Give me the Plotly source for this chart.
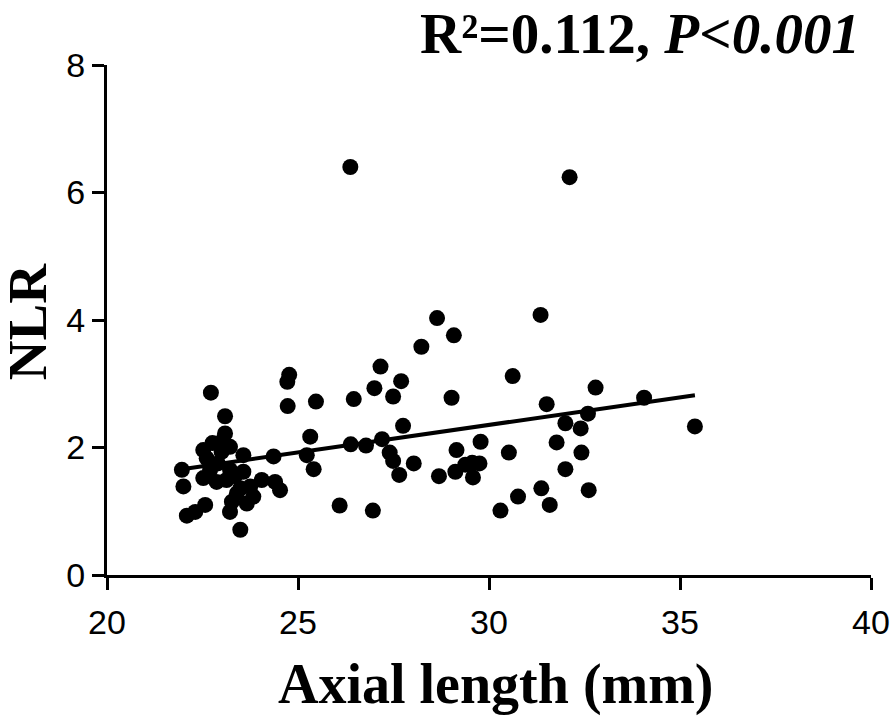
import plotly.graph_objects as go

# Axial length (mm)
axial_length = [
    21.96, 22.00, 22.09, 22.31, 22.57, 22.52, 22.61, 22.52, 22.70, 22.72,
    22.76, 22.87, 23.00, 23.09, 23.09, 23.13, 23.22, 23.22, 23.04, 23.27,
    23.22, 23.40, 23.49, 23.49, 23.57, 23.57, 23.66, 23.75, 23.83, 24.05,
    24.40, 24.53, 24.36, 24.72, 24.77, 24.73, 22.90, 23.35,
    25.47, 25.32, 25.23, 25.41, 26.09, 26.37, 26.46, 26.38, 26.78, 26.96,
    27.00, 27.16, 27.20, 27.40, 27.49, 27.49, 27.65, 27.70, 27.75, 28.03,
    28.23, 28.64, 28.69, 29.02, 29.08, 29.12, 29.15, 29.38, 29.56, 29.58,
    29.75, 29.78, 30.30, 30.52, 30.62, 30.76, 31.35, 31.37, 31.51, 31.59,
    31.77, 32.00, 32.00, 32.11, 32.40, 32.42, 32.59, 32.61, 32.79, 34.06,
    35.39,
]
# NLR
nlr = [
    1.65, 1.39, 0.93, 0.99, 1.10, 1.96, 1.83, 1.52, 1.65, 2.86,
    2.07, 1.46, 1.93, 2.49, 2.22, 1.49, 1.65, 2.01, 2.12, 1.15,
    0.99, 1.28, 1.36, 0.71, 1.88, 1.62, 1.12, 1.39, 1.23, 1.49,
    1.46, 1.33, 1.86, 3.03, 3.14, 2.65, 1.75, 1.55,
    2.72, 2.17, 1.88, 1.66, 1.09, 6.40, 2.76, 2.05, 2.03, 1.01,
    2.93, 3.27, 2.13, 1.92, 1.79, 2.80, 1.57, 3.04, 2.34, 1.75,
    3.58, 4.03, 1.55, 2.78, 3.76, 1.62, 1.96, 1.73, 1.76, 1.53,
    1.75, 2.09, 1.01, 1.92, 3.12, 1.23, 4.08, 1.36, 2.68, 1.10,
    2.08, 2.38, 1.66, 6.24, 2.30, 1.92, 2.53, 1.33, 2.94, 2.78,
    2.33,
]

# Regression line end points
fit_x = [21.96, 35.39]
fit_y = [1.66, 2.82]

x_ticks = [20, 25, 30, 35, 40]
y_ticks = [0, 2, 4, 6, 8]
x_title = "<b>Axial length (mm)</b>"
y_title = "<b>NLR</b>"
annotation_text = "<b>R²=0.112, <i>P&lt;0.001</i></b>"

serif = "Liberation Serif, Times New Roman"

fig = go.Figure()
fig.add_trace(go.Scatter(
    x=axial_length, y=nlr, mode="markers",
    marker=dict(color="black", size=16, line=dict(width=0)),
    cliponaxis=False, showlegend=False,
))
fig.add_trace(go.Scatter(
    x=fit_x, y=fit_y, mode="lines",
    line=dict(color="black", width=4),
    showlegend=False,
))

axis_common = dict(
    showgrid=False, zeroline=False, showline=True, linecolor="black",
    linewidth=3, ticks="outside", ticklen=12, tickwidth=3, tickcolor="black",
    automargin=False, ticklabeloverflow="allow",
    tickfont=dict(family="Liberation Sans, Arial", size=34, color="black"),
)
fig.update_xaxes(range=[20, 40], tickvals=x_ticks, ticklabelstandoff=3, **axis_common)
fig.update_yaxes(range=[0, 8], tickvals=y_ticks, **axis_common)

fig.add_annotation(
    text=x_title, xref="paper", yref="paper",
    x=0.509, y=-0.214, xanchor="center", yanchor="middle", showarrow=False,
    font=dict(family=serif, size=56, color="black"),
)
fig.add_annotation(
    text=y_title, xref="paper", yref="paper", textangle=-90,
    x=-0.1045, y=0.496, xanchor="center", yanchor="middle", showarrow=False,
    font=dict(family=serif, size=55, color="black"),
)
fig.add_annotation(
    text=annotation_text, xref="paper", yref="paper",
    x=0.988, y=1.062, xanchor="right", yanchor="middle", showarrow=False,
    font=dict(family=serif, size=57, color="black"),
)
fig.update_layout(
    width=892, height=718,
    margin=dict(l=107, r=21, t=65, b=143),
    plot_bgcolor="white", paper_bgcolor="white",
)
# remove the page's default body margin so the figure fills the window exactly
fig.write_html("out.html", config={"displayModeBar": False},
               post_script="document.body.style.margin='0';")
